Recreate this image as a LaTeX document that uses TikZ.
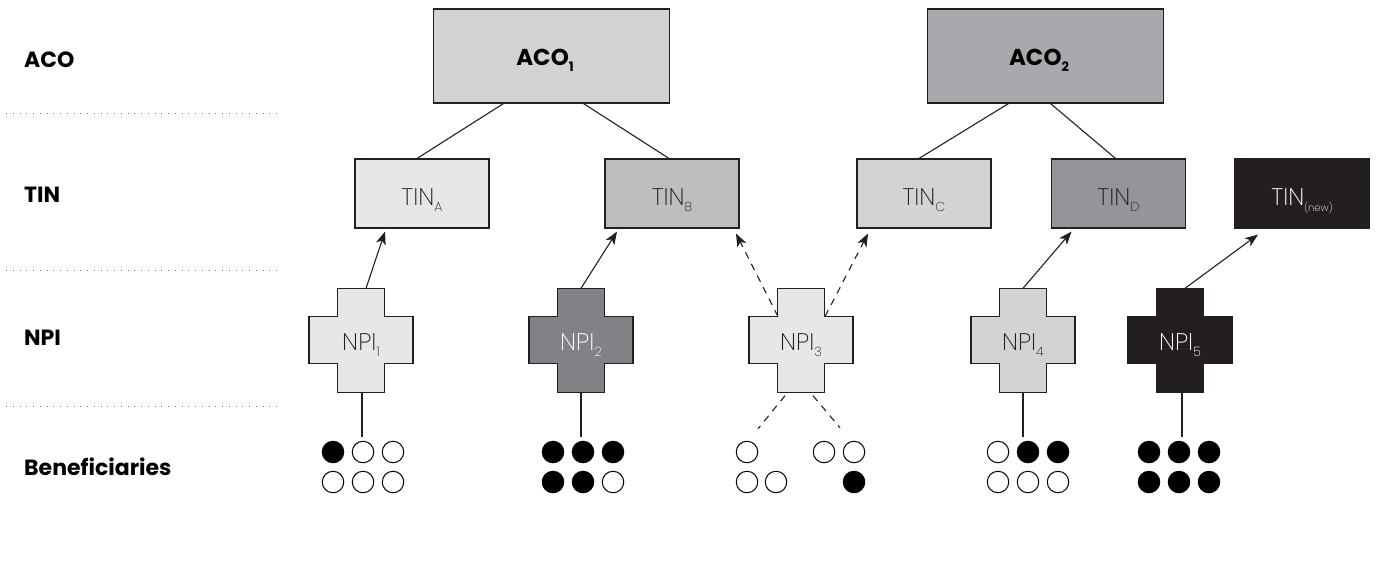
\documentclass[tikz,border=0pt]{standalone}
\usepackage{fontspec}
\setmainfont{Poppins}
\newfontfamily\thinfont{Poppins ExtraLight}
\usetikzlibrary{arrows.meta}
\definecolor{inkdark}{HTML}{231F20}
\definecolor{greyA}{HTML}{E6E7E8}
\definecolor{greyB}{HTML}{D1D3D4}
\definecolor{greyC}{HTML}{BCBEC0}
\definecolor{greyD}{HTML}{A7A9AC}
\definecolor{greyE}{HTML}{939598}
\definecolor{greyF}{HTML}{808285}
\newcommand{\lowtxt}[2]{#1\raisebox{-6pt}{\fontsize{13}{13}\selectfont #2}}
% one cross: centre name fill textcolour label
\newcommand{\npicross}[5]{
  \draw[crossline, fill=#3] (#1) ++(-23.5,-52) -- ++(47,0) -- ++(0,28) -- ++(28.5,0) -- ++(0,47)
    -- ++(-28.5,0) -- ++(0,29) -- ++(-47,0) -- ++(0,-29) -- ++(-28.5,0) -- ++(0,-47) -- ++(28.5,0) -- cycle;
  \node[npi, text=#4] (#2) at (#1) {\lowtxt{NPI}{#5}};
}
\tikzset{
  crossline/.style={draw=inkdark, line width=1.1pt},
  acobox/.style={rectangle, crossline, minimum width=236pt, minimum height=94pt, text height=18pt, text depth=0pt, font=\bfseries\fontsize{23}{23}\selectfont, text=black},
  tinbox/.style={rectangle, crossline, minimum width=134pt, minimum height=69pt, text height=23pt, text depth=0pt, font=\thinfont\fontsize{24}{24}\selectfont, text=inkdark},
  npi/.style={rectangle, minimum width=104pt, minimum height=104pt, inner sep=0pt, text height=19pt, text depth=0pt, font=\thinfont\fontsize{24}{24}\selectfont},
  rowlabel/.style={anchor=west, inner sep=0pt, font=\bfseries\fontsize{22}{22}\selectfont},
  benfull/.style={circle, draw=black, fill=black, line width=1pt, minimum size=21.5pt, inner sep=0pt},
  benempty/.style={circle, draw=black, fill=white, line width=1pt, minimum size=21.5pt, inner sep=0pt},
  tie/.style={line width=1.1pt, draw=inkdark},
  dashtie/.style={tie, dash pattern=on 7pt off 6pt},
  tip/.style={-{Stealth[length=13pt,width=10pt,inset=3.5pt]}},
}
\begin{document}
\begin{tikzpicture}[x=1pt,y=-1pt]
\useasboundingbox (0,0) rectangle (1395,571);
% row labels
\node[rowlabel] (lblaco) at (24,60) {ACO};
\node[rowlabel] (lbltin) at (24,195) {TIN};
\node[rowlabel] (lblnpi) at (24,338) {NPI};
\node[rowlabel] (lblben) at (24,467) {Beneficiaries};
\foreach \y in {113,270,406}
  \draw[line width=1pt, inkdark!60, dash pattern=on 1pt off 5.75pt] (6,\y) -- (281,\y);
% ACOs
\node[acobox, fill=greyB] (aco1) at (551.5,56) {\hspace{-13pt}\lowtxt{ACO}{\bfseries 1}};
\node[acobox, fill=greyD] (aco2) at (1045.5,56) {\hspace{-13pt}\lowtxt{ACO}{\bfseries 2}};
% TINs
\node[tinbox, fill=greyA] (tina) at (422,193.5) {\lowtxt{TIN}{A}};
\node[tinbox, fill=greyC] (tinb) at (672,193.5) {\lowtxt{TIN}{B}};
\node[tinbox, fill=greyB] (tinc) at (924,193.5) {\lowtxt{TIN}{C}};
\node[tinbox, fill=greyE] (tind) at (1118.5,193.5) {\lowtxt{TIN}{D}};
\node[tinbox, fill=inkdark, text=white] (tinn) at (1302,193.5) {\lowtxt{TIN}{\fontsize{10}{10}\selectfont (new)}};
% NPIs
\npicross{361,340.5}{npi1}{greyA}{inkdark}{1}
\npicross{581,340.5}{npi2}{greyF}{white}{2}
\npicross{801,340.5}{npi3}{greyA}{inkdark}{3}
\npicross{1023,340.5}{npi4}{greyB}{inkdark}{4}
\npicross{1180,340.5}{npi5}{inkdark}{white}{5}
% ACO to TIN
\draw[tie] ([xshift=-48pt]aco1.south) -- ([xshift=-5pt]tina.north);
\draw[tie] ([xshift=32pt]aco1.south) -- ([xshift=-3pt]tinb.north);
\draw[tie] ([xshift=-37pt]aco2.south) -- ([xshift=-5pt]tinc.north);
\draw[tie] ([xshift=5pt]aco2.south) -- ([xshift=-3pt]tind.north);
% NPI to TIN
\draw[tie, tip] ([xshift=5pt]npi1.north) -- ([xshift=-37pt,yshift=-3pt]tina.south);
\draw[tie, tip] (npi2.north) -- ([xshift=-55pt,yshift=-3pt]tinb.south);
\draw[dashtie, tip] ([xshift=-23pt,yshift=24pt]npi3.center) -- ([xshift=64pt,yshift=-5pt]tinb.south);
\draw[dashtie, tip] ([xshift=24pt,yshift=24pt]npi3.center) -- ([xshift=-56pt,yshift=-5pt]tinc.south);
\draw[tie, tip] (npi4.north) -- ([xshift=-47pt,yshift=-3pt]tind.south);
\draw[tie, tip] ([xshift=5pt]npi5.north) -- ([xshift=-44pt,yshift=-6pt]tinn.south);
% beneficiaries
\foreach \x/\y/\kind [count=\i] in {333/452/benfull,363/452/benempty,393/452/benempty,333/482/benempty,363/482/benempty,393/482/benempty,
  553/452/benfull,583/452/benfull,613/452/benfull,553/482/benfull,583/482/benfull,613/482/benempty,
  747/452/benempty,824/452/benempty,854/452/benempty,747/482/benempty,776/482/benempty,854/482/benfull,
  998/452/benempty,1028/452/benfull,1058/452/benfull,998/482/benempty,1028/482/benempty,1058/482/benempty,
  1149/452/benfull,1179/452/benfull,1209/452/benfull,1149/482/benfull,1179/482/benfull,1209/482/benfull}
  \node[\kind] (ben\i) at (\x,\y) {};
\draw[tie] ([xshift=1pt]npi1.south) -- ([xshift=-1pt,yshift=4pt]ben2.north);
\draw[tie] (npi2.south) -- ([xshift=-2pt,yshift=4pt]ben8.north);
\draw[dashtie] ([xshift=-16pt,yshift=-3pt]npi3.south) -- ([xshift=11pt,yshift=12pt]ben13.north);
\draw[dashtie] ([xshift=12pt,yshift=-3pt]npi3.south) -- ([xshift=16pt,yshift=13pt]ben14.north);
\draw[tie] (npi4.south) -- ([xshift=-5pt,yshift=4pt]ben20.north);
\draw[tie] ([xshift=2pt]npi5.south) -- ([xshift=3pt,yshift=4pt]ben26.north);
\end{tikzpicture}
\end{document}
